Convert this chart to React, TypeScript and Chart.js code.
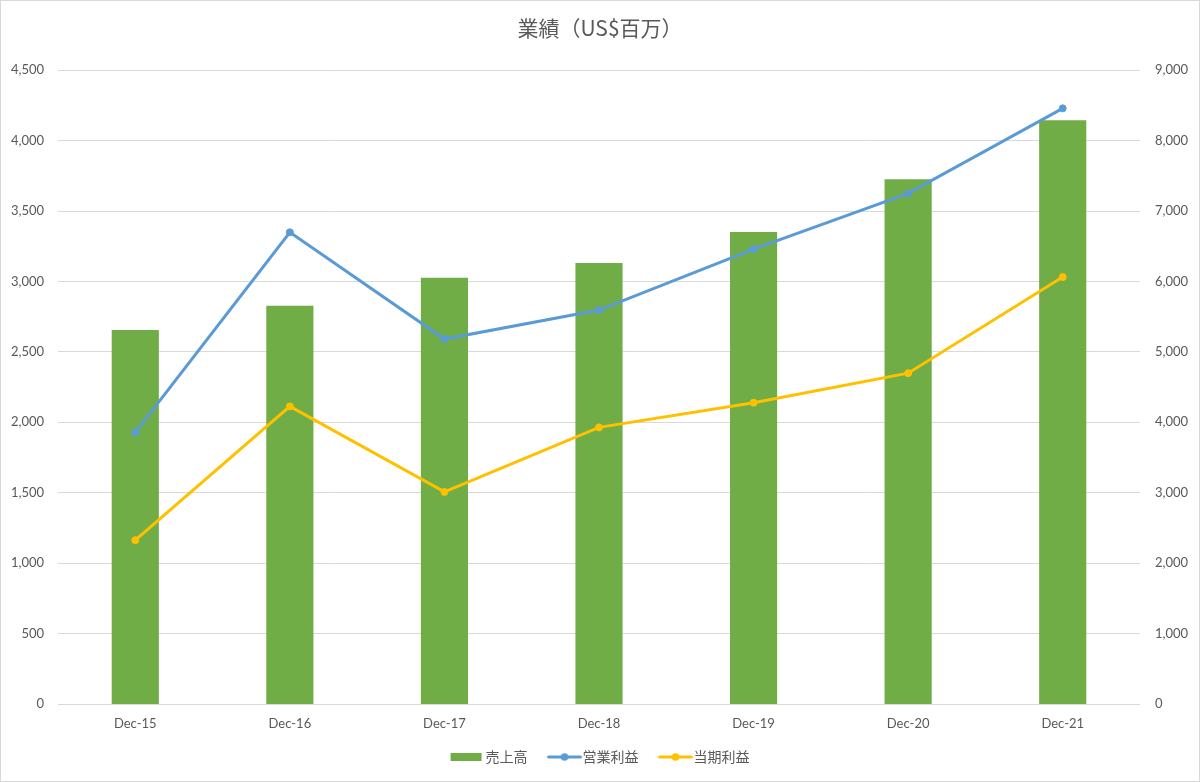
import React, { useEffect, useRef } from "react";
import { Chart, registerables } from "chart.js";

Chart.register(...registerables);

const categories = ["Dec-15", "Dec-16", "Dec-17", "Dec-18", "Dec-19", "Dec-20", "Dec-21"];
const salesValues = [5310, 5655, 6052, 6261, 6701, 7450, 8288];
const operatingProfit = [1928, 3349, 2591, 2797, 3230, 3626, 4229];
const netProfit = [1163, 2113, 1506, 1964, 2139, 2349, 3031];
const seriesNames = ["売上高", "営業利益", "当期利益"];
const titleText = "業績（US$百万）";

const GREEN = "#70AD47";
const BLUE = "#5B9BD5";
const YELLOW = "#FFC000";
const TEXT = "#595959";
const GRID = "#D9D9D9";

function makeBarIcon(): HTMLCanvasElement {
  const c = document.createElement("canvas");
  c.width = 44;
  c.height = 12;
  const ctx = c.getContext("2d")!;
  ctx.fillStyle = GREEN;
  ctx.fillRect(8, 2, 31, 8);
  return c;
}

function makeLineIcon(color: string): HTMLCanvasElement {
  const c = document.createElement("canvas");
  c.width = 44;
  c.height = 12;
  const ctx = c.getContext("2d")!;
  ctx.strokeStyle = color;
  ctx.lineWidth = 3;
  ctx.lineCap = "round";
  ctx.beginPath();
  ctx.moveTo(9, 6);
  ctx.lineTo(41, 6);
  ctx.stroke();
  ctx.fillStyle = color;
  ctx.beginPath();
  ctx.arc(25, 6, 3.8, 0, Math.PI * 2);
  ctx.fill();
  return c;
}

export default function App() {
  const ref = useRef<HTMLCanvasElement | null>(null);

  useEffect(() => {
    if (!ref.current) return;
    const icons = [makeBarIcon(), makeLineIcon(BLUE), makeLineIcon(YELLOW)];
    const colors = [GREEN, BLUE, YELLOW];
    const tickFont = { family: "Lato, 'Open Sans', sans-serif", size: 13 };
    const chart = new Chart(ref.current, {
      type: "bar",
      data: {
        labels: categories,
        datasets: [
          {
            type: "bar",
            label: seriesNames[0],
            data: salesValues,
            backgroundColor: GREEN,
            borderWidth: 0,
            yAxisID: "y1",
            order: 3,
            categoryPercentage: 1,
            barPercentage: 0.305,
          },
          {
            type: "line",
            label: seriesNames[1],
            data: operatingProfit,
            borderColor: BLUE,
            backgroundColor: BLUE,
            borderWidth: 3,
            pointRadius: 3.5,
            pointBorderWidth: 1,
            pointBackgroundColor: BLUE,
            pointBorderColor: BLUE,
            tension: 0,
            yAxisID: "y",
            order: 1,
          },
          {
            type: "line",
            label: seriesNames[2],
            data: netProfit,
            borderColor: YELLOW,
            backgroundColor: YELLOW,
            borderWidth: 3,
            pointRadius: 3.5,
            pointBorderWidth: 1,
            pointBackgroundColor: YELLOW,
            pointBorderColor: YELLOW,
            tension: 0,
            yAxisID: "y",
            order: 2,
          },
        ],
      },
      options: {
        responsive: false,
        animation: false,
        devicePixelRatio: 1,
        layout: { padding: { left: 0, right: 0, top: 0, bottom: 7 } },
        plugins: {
          tooltip: { enabled: false },
          title: {
            display: true,
            text: titleText,
            color: TEXT,
            font: { family: "'Noto Sans CJK JP', sans-serif", size: 21, weight: "normal" },
            padding: { top: 14, bottom: 30 },
          },
          legend: {
            display: true,
            position: "bottom",
            labels: {
              usePointStyle: true,
              pointStyleWidth: 28,
              boxHeight: 14,
              padding: 20,
              color: TEXT,
              font: { family: "'Noto Sans CJK JP', sans-serif", size: 14 },
              generateLabels: () =>
                seriesNames.map((name, i) => ({
                  text: name,
                  fillStyle: colors[i],
                  strokeStyle: colors[i],
                  lineWidth: 0,
                  hidden: false,
                  pointStyle: icons[i] as any,
                  datasetIndex: i,
                  fontColor: TEXT,
                })),
            },
          },
        },
        scales: {
          x: {
            grid: { display: false, drawTicks: false },
            border: { display: false },
            ticks: { color: TEXT, font: tickFont, padding: 12, maxRotation: 0 },
            afterFit: (scale: any) => {
              scale.height = 26;
            },
          },
          y: {
            position: "left",
            min: 0,
            max: 4500,
            grid: { color: GRID, lineWidth: 1, drawTicks: false },
            border: { display: false },
            ticks: {
              stepSize: 500,
              color: TEXT,
              font: tickFont,
              padding: 14,
              callback: (v: any) => Number(v).toLocaleString("en-US"),
            },
            afterFit: (scale: any) => {
              scale.width = 57;
            },
          },
          y1: {
            position: "right",
            min: 0,
            max: 9000,
            grid: { display: false, drawTicks: false },
            border: { display: false },
            ticks: {
              stepSize: 1000,
              color: TEXT,
              font: tickFont,
              padding: 15,
              callback: (v: any) => Number(v).toLocaleString("en-US"),
            },
            afterFit: (scale: any) => {
              scale.width = 59;
            },
          },
        },
      },
    } as any);
    return () => chart.destroy();
  }, []);

  return (
    <div
      style={{
        position: "fixed",
        left: 0,
        top: 0,
        width: 1200,
        height: 782,
        boxSizing: "border-box",
        border: "1px solid #D9D9D9",
        background: "#fff",
      }}
    >
      <canvas ref={ref} width={1198} height={780} style={{ display: "block", width: 1198, height: 780 }} />
    </div>
  );
}
